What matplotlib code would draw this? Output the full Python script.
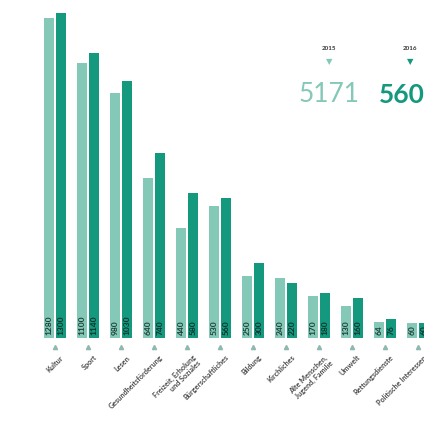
import numpy as np
import matplotlib.pyplot as plt
import matplotlib.transforms as mtransforms

plt.rcParams['font.family'] = ['Lato', 'DejaVu Sans']

categories = ["Kultur", "Sport", "Lesen", "Gesundheitsförderung",
              "Freizeit, Erholung\nund Soziales", "Bürgerschaftliches",
              "Bildung", "Kirchliches", "Alte Menschen,\nJugend, Familie",
              "Umwelt", "Rettungsdienste", "Politische Interessen"]
v2015 = [1280, 1100, 980, 640, 440, 530, 250, 240, 170, 130, 64, 60]
v2016 = [1300, 1140, 1030, 740, 580, 560, 300, 220, 180, 160, 76, 60]
years = ["2015", "2016"]
totals = ["5171", "5603"]

light = "#84c8b7"
dark = "#14987e"

fig = plt.figure(figsize=(4.24, 4.26), dpi=100)
ax = fig.add_axes([0, 88 / 426, 1, 1 - 88 / 426])
x = np.arange(len(categories))
w = 0.29
off = 0.18
ax.bar(x - off, v2015, width=w, color=light, linewidth=0)
ax.bar(x + off, v2016, width=w * 1.05, color=dark, linewidth=0)
ax.set_xlim(-55 / 33, (424 - 55) / 33)
ax.set_ylim(0, 1352)
ax.axis("off")

# values written inside the bars, near the bottom
for i in range(len(categories)):
    ax.text(x[i] - off, 12, str(v2015[i]), rotation=90, ha="center", va="bottom",
            fontsize=6, color="#1c3f37", fontweight="bold")
    ax.text(x[i] + off, 12, str(v2016[i]), rotation=90, ha="center", va="bottom",
            fontsize=6, color="#0b342b", fontweight="bold")

# markers and labels under the baseline
trans = mtransforms.blended_transform_factory(ax.transData, fig.transFigure)
ax.plot(x, [1 - 347 / 426] * len(x), marker="^", ls="none", ms=3,
        color="#8fb8ae", transform=trans, clip_on=False)
for i, lab in enumerate(categories):
    ax.text(x[i] + 0.15, 1 - 354 / 426, lab, rotation=45, ha="right", va="top",
            rotation_mode="anchor", fontsize=5.2, color="#4a4a4a",
            fontweight="bold", transform=trans, clip_on=False, linespacing=1.1)

# totals
fig.text(329 / 424, 1 - 48 / 426, years[0], ha="center", va="center",
         fontsize=4.5, color="#333333", fontweight="bold")
fig.text(329 / 424, 1 - 62 / 426, "▼", ha="center", va="center",
         fontsize=6, color=light, family="DejaVu Sans")
fig.text(329 / 424, 1 - 95 / 426, totals[0], ha="center", va="center",
         fontsize=19, color=light)
fig.text(410 / 424, 1 - 48 / 426, years[1], ha="center", va="center",
         fontsize=4.5, color="#333333", fontweight="bold")
fig.text(410 / 424, 1 - 62 / 426, "▼", ha="center", va="center",
         fontsize=6, color=dark, family="DejaVu Sans")
fig.text(379 / 424, 1 - 95 / 426, totals[1], ha="left", va="center",
         fontsize=19, color=dark, fontweight="bold")

fig.savefig("out.png", dpi=100)
